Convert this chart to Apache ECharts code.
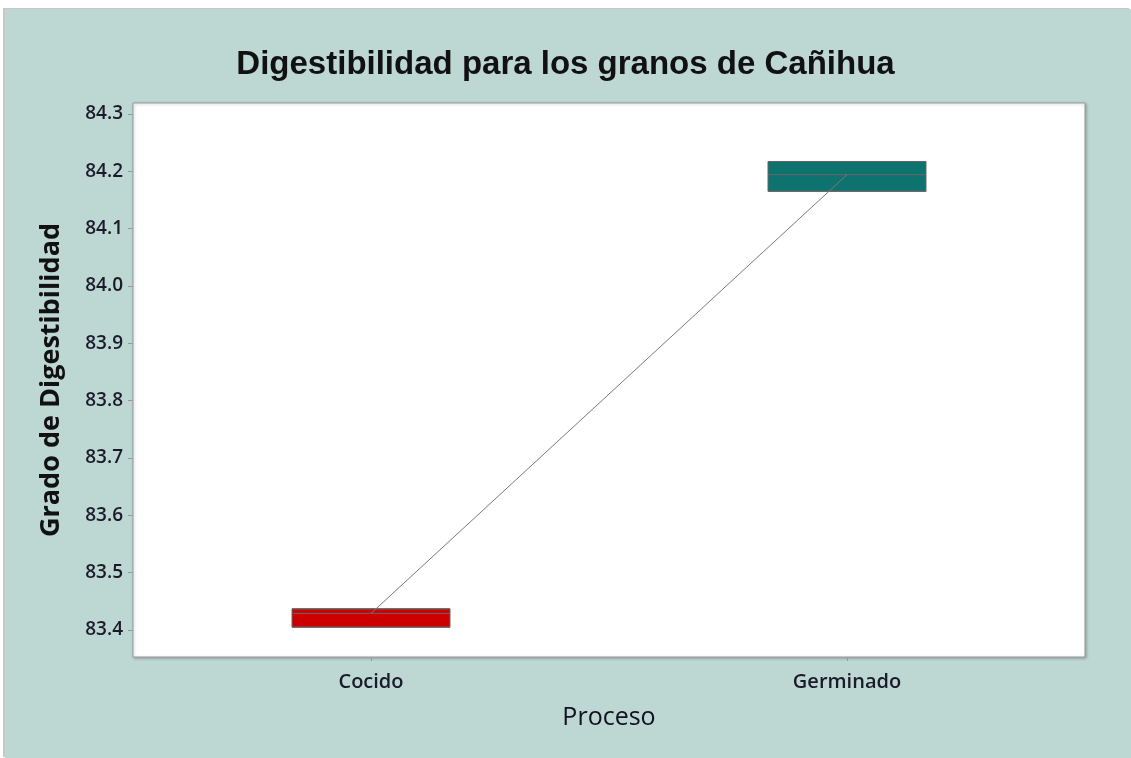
<!DOCTYPE html>
<html>
<head>
<meta charset="utf-8">
<script src="https://cdn.jsdelivr.net/npm/echarts@6/dist/echarts.min.js"></script>
<style>
  html, body { margin: 0; padding: 0; background: #ffffff; }
  .panel {
    position: absolute;
    left: 5px;
    top: 9px;
    width: 1126px;
    height: 749px;
    background: #bdd7d3;
    box-shadow: -2px -1px 0 #c8c8c8;
  }
  #chart {
    position: absolute;
    left: 0;
    top: 0;
    width: 1131px;
    height: 758px;
  }
</style>
</head>
<body>
<div class="panel"></div>
<div id="chart"></div>
<script>
  // categories and box values
  const categories = ['Cocido', 'Germinado'];
  // [min, Q1, median, Q3, max]
  const boxValues = [
    [83.405, 83.405, 83.429, 83.437, 83.437],
    [84.165, 84.165, 84.194, 84.217, 84.217]
  ];
  const medians = [83.429, 84.194];
  const boxColors = ['#cc0000', '#0e726e'];
  const yTicks = [83.4, 83.5, 83.6, 83.7, 83.8, 83.9, 84.0, 84.1, 84.2, 84.3];

  const chart = echarts.init(document.getElementById('chart'));

  const labelFont = '"Open Sans", "Noto Sans", sans-serif';

  const option = {
    backgroundColor: 'transparent',
    animation: false,
    title: {
      text: 'Digestibilidad para los granos de Cañihua',
      left: 'center',
      top: 43,
      textStyle: {
        fontFamily: '"Liberation Sans", Arial, sans-serif',
        fontSize: 33,
        fontWeight: 'bold',
        color: '#111111'
      }
    },
    grid: {
      left: 133,
      right: 46,
      top: 103,
      bottom: 101,
      show: true,
      backgroundColor: '#ffffff',
      borderColor: '#9a9a9a',
      borderWidth: 1,
      shadowColor: 'rgba(0,0,0,0.25)',
      shadowBlur: 3,
      shadowOffsetX: 1,
      shadowOffsetY: 1
    },
    xAxis: {
      type: 'category',
      data: categories,
      name: 'Proceso',
      nameLocation: 'middle',
      nameGap: 48,
      nameTextStyle: {
        fontFamily: labelFont,
        fontSize: 25,
        fontWeight: 500,
        color: '#111122'
      },
      axisLine: { show: false },
      axisTick: {
        show: true,
        alignWithLabel: true,
        length: 4,
        lineStyle: { color: '#999999' }
      },
      axisLabel: {
        margin: 15,
        fontFamily: labelFont,
        fontSize: 20,
        fontWeight: 600,
        color: '#1a1a2a'
      },
      splitLine: { show: false }
    },
    yAxis: {
      type: 'value',
      min: 83.353,
      max: 84.319,
      name: 'Grado de Digestibilidad',
      nameLocation: 'middle',
      nameGap: 68,
      nameTextStyle: {
        fontFamily: labelFont,
        fontSize: 27,
        fontWeight: 'bold',
        color: '#111111'
      },
      axisLine: { show: false },
      axisTick: {
        show: true,
        length: 5,
        customValues: yTicks,
        lineStyle: { color: '#999999' }
      },
      axisLabel: {
        margin: 10,
        customValues: yTicks,
        formatter: function (v) { return v.toFixed(1); },
        fontFamily: labelFont,
        fontSize: 19,
        fontWeight: 600,
        color: '#1a1a2a'
      },
      splitLine: { show: false }
    },
    series: [
      {
        type: 'boxplot',
        boxWidth: [158, 158],
        data: boxValues.map(function (v, i) {
          return {
            value: v,
            itemStyle: {
              color: boxColors[i],
              borderColor: '#666666',
              borderWidth: 1
            }
          };
        }),
        z: 2
      },
      {
        type: 'line',
        data: medians,
        symbol: 'none',
        lineStyle: { color: '#7a7a7a', width: 1 },
        z: 3
      }
    ]
  };

  chart.setOption(option);
</script>
</body>
</html>
